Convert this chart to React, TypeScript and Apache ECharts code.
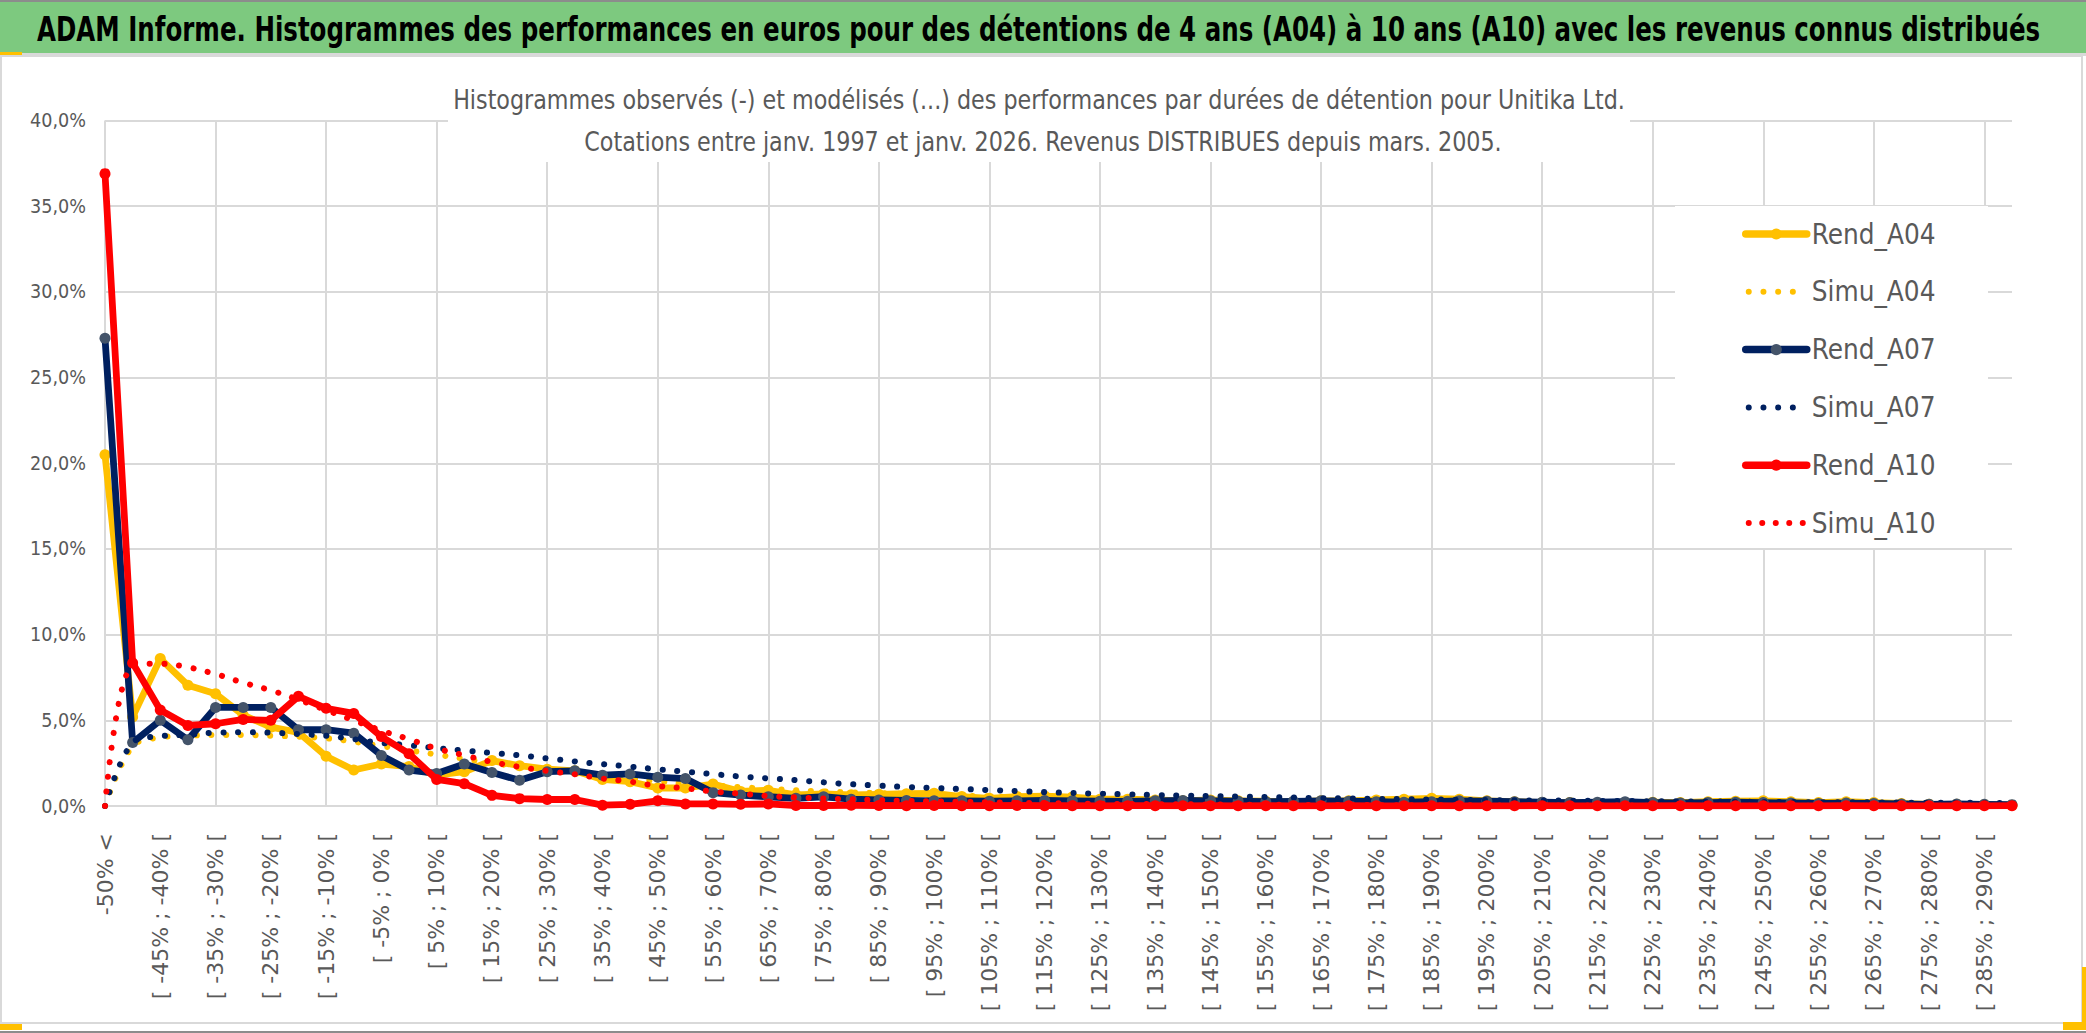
import React, { useEffect, useRef } from 'react';
import * as echarts from 'echarts';

const TITLE = 'ADAM Informe. Histogrammes des performances en euros pour des détentions de 4 ans (A04) à 10 ans (A10) avec les revenus connus distribués';
const SUB1 = 'Histogrammes observés (-) et modélisés (...) des performances par durées de détention pour Unitika Ltd.';
const SUB2 = 'Cotations entre janv. 1997 et janv. 2026. Revenus DISTRIBUES depuis mars. 2005.';

const categories = [
  '-50% <',
  '[ -50% ; -45% [', '[ -45% ; -40% [', '[ -40% ; -35% [', '[ -35% ; -30% [', '[ -30% ; -25% [',
  '[ -25% ; -20% [', '[ -20% ; -15% [', '[ -15% ; -10% [', '[ -10% ; -5% [', '[ -5% ; 0% [',
  '[ 0% ; 5% [', '[ 5% ; 10% [', '[ 10% ; 15% [', '[ 15% ; 20% [', '[ 20% ; 25% [',
  '[ 25% ; 30% [', '[ 30% ; 35% [', '[ 35% ; 40% [', '[ 40% ; 45% [', '[ 45% ; 50% [',
  '[ 50% ; 55% [', '[ 55% ; 60% [', '[ 60% ; 65% [', '[ 65% ; 70% [', '[ 70% ; 75% [',
  '[ 75% ; 80% [', '[ 80% ; 85% [', '[ 85% ; 90% [', '[ 90% ; 95% [', '[ 95% ; 100% [',
  '[ 100% ; 105% [', '[ 105% ; 110% [', '[ 110% ; 115% [', '[ 115% ; 120% [', '[ 120% ; 125% [',
  '[ 125% ; 130% [', '[ 130% ; 135% [', '[ 135% ; 140% [', '[ 140% ; 145% [', '[ 145% ; 150% [',
  '[ 150% ; 155% [', '[ 155% ; 160% [', '[ 160% ; 165% [', '[ 165% ; 170% [', '[ 170% ; 175% [',
  '[ 175% ; 180% [', '[ 180% ; 185% [', '[ 185% ; 190% [', '[ 190% ; 195% [', '[ 195% ; 200% [',
  '[ 200% ; 205% [', '[ 205% ; 210% [', '[ 210% ; 215% [', '[ 215% ; 220% [', '[ 220% ; 225% [',
  '[ 225% ; 230% [', '[ 230% ; 235% [', '[ 235% ; 240% [', '[ 240% ; 245% [', '[ 245% ; 250% [',
  '[ 250% ; 255% [', '[ 255% ; 260% [', '[ 260% ; 265% [', '[ 265% ; 270% [', '[ 270% ; 275% [',
  '[ 275% ; 280% [', '[ 280% ; 285% [', '[ 285% ; 290% [', '[ 290% ; 295% [',
];

const rendA04 = [
  20.5, 5.2, 8.6, 7.05, 6.55, 5.3, 4.6, 4.3, 2.9, 2.1,
  2.45, 2.3, 1.8, 2.0, 2.65, 2.35, 2.15, 2.05, 1.55, 1.42,
  1.05, 1.05, 1.28, 0.85, 0.92, 0.65, 0.7, 0.65, 0.68, 0.72,
  0.74, 0.55, 0.45, 0.55, 0.58, 0.52, 0.4, 0.4, 0.35, 0.3,
  0.35, 0.3, 0.28, 0.25, 0.3, 0.3, 0.35, 0.4, 0.45, 0.4,
  0.3, 0.25, 0.2, 0.2, 0.18, 0.2, 0.22, 0.2, 0.25, 0.28,
  0.3, 0.25, 0.2, 0.25, 0.2, 0.15, 0.1, 0.1, 0.08, 0.05,
];

const simuA04 = [
  0, 3.5, 4.0, 4.1, 4.15, 4.15, 4.1, 4.05, 3.95, 3.75,
  3.5, 3.25, 3.0, 2.75, 2.5, 2.3, 2.1, 1.9, 1.75, 1.6,
  1.45, 1.3, 1.2, 1.1, 1.0, 0.92, 0.85, 0.8, 0.75, 0.7,
  0.65, 0.6, 0.56, 0.52, 0.48, 0.45, 0.42, 0.39, 0.36, 0.34,
  0.32, 0.3, 0.28, 0.26, 0.25, 0.24, 0.23, 0.22, 0.21, 0.2,
  0.19, 0.18, 0.17, 0.16, 0.15, 0.15, 0.14, 0.13, 0.13, 0.12,
  0.12, 0.11, 0.11, 0.1, 0.1, 0.09, 0.09, 0.09, 0.08, 0.08,
];

const rendA07 = [
  27.3, 3.7, 5.0, 3.87, 5.75, 5.75, 5.75, 4.45, 4.45, 4.25,
  2.95, 2.1, 1.9, 2.45, 1.95, 1.5, 2.0, 2.05, 1.8, 1.87,
  1.68, 1.6, 0.78, 0.64, 0.54, 0.45, 0.54, 0.4, 0.35, 0.32,
  0.3, 0.3, 0.28, 0.3, 0.32, 0.3, 0.28, 0.27, 0.3, 0.32,
  0.3, 0.28, 0.25, 0.27, 0.3, 0.28, 0.25, 0.22, 0.25, 0.3,
  0.28, 0.25, 0.22, 0.2, 0.22, 0.25, 0.2, 0.18, 0.2, 0.22,
  0.2, 0.18, 0.15, 0.17, 0.15, 0.12, 0.1, 0.12, 0.1, 0.08,
];

const simuA07 = [
  0, 3.7, 4.07, 4.16, 4.28, 4.3, 4.28, 4.2, 4.1, 3.9,
  3.68, 3.55, 3.38, 3.24, 3.1, 2.96, 2.78, 2.6, 2.44, 2.3,
  2.14, 2.0, 1.86, 1.72, 1.61, 1.51, 1.38, 1.27, 1.19, 1.11,
  1.05, 0.99, 0.93, 0.87, 0.81, 0.76, 0.72, 0.68, 0.64, 0.61,
  0.58, 0.55, 0.52, 0.49, 0.46, 0.44, 0.42, 0.4, 0.38, 0.36,
  0.35, 0.33, 0.32, 0.31, 0.3, 0.29, 0.28, 0.27, 0.26, 0.25,
  0.24, 0.23, 0.22, 0.22, 0.21, 0.2, 0.19, 0.19, 0.18, 0.17,
];

const rendA10 = [
  36.9, 8.35, 5.6, 4.7, 4.8, 5.05, 5.0, 6.4, 5.7, 5.4,
  4.05, 3.05, 1.55, 1.3, 0.62, 0.43, 0.38, 0.38, 0.05, 0.1,
  0.3, 0.12, 0.12, 0.1, 0.12, 0.03, 0.03, 0.04, 0.03, 0.02,
  0.03, 0.02, 0.02, 0.03, 0.02, 0.02, 0.01, 0.02, 0.02, 0.01,
  0.02, 0.01, 0.02, 0.01, 0.01, 0.02, 0.01, 0.01, 0.02, 0.01,
  0.01, 0.01, 0.02, 0.01, 0.01, 0.01, 0.01, 0.02, 0.01, 0.01,
  0.01, 0.01, 0.01, 0.02, 0.01, 0.01, 0.01, 0.01, 0.01, 0.02,
];

const simuA10 = [
  0, 8.2, 8.3, 8.1, 7.7, 7.2, 6.75, 6.2, 5.6, 5.0,
  4.4, 3.9, 3.35, 2.96, 2.57, 2.28, 2.04, 1.85, 1.6, 1.42,
  1.17, 1.03, 0.84, 0.72, 0.58, 0.5, 0.44, 0.39, 0.34, 0.3,
  0.27, 0.24, 0.21, 0.19, 0.17, 0.15, 0.13, 0.12, 0.11, 0.1,
  0.09, 0.08, 0.07, 0.07, 0.06, 0.06, 0.05, 0.05, 0.04, 0.04,
  0.04, 0.03, 0.03, 0.03, 0.03, 0.03, 0.02, 0.02, 0.02, 0.02,
  0.02, 0.02, 0.02, 0.02, 0.02, 0.02, 0.02, 0.02, 0.02, 0.02,
];

const Y_MAX = 40;
const Y_STEP = 5;

const YELLOW = '#FFC000';
const NAVY = '#002060';
const NAVY_MARK = '#44546A';
const RED = '#FF0000';

const CAL = "'Liberation Sans Narrow', 'Noto Sans Condensed', 'DejaVu Sans Condensed', Lato, sans-serif";
const XF = "'DejaVu Sans', Verdana, sans-serif";

function measure(text: string, weight: string, size: number, family: string) {
  const c = document.createElement('canvas');
  const ctx = c.getContext('2d');
  if (!ctx) return 0;
  ctx.font = `${weight} ${size}px ${family}`;
  return ctx.measureText(text).width;
}

function fit(text: string, weight: string, family: string, target: number, fallback: number) {
  const w = measure(text, weight, 100, family);
  return w > 0 ? (100 * target) / w : fallback;
}

function squeeze(text: string, weight: string, size: number, family: string, target: number) {
  const w = measure(text, weight, size, family);
  return w > 0 ? Math.min(1.15, target / w) : 1;
}

function dotsIcon(n: number, gap: number) {
  const r = 3;
  let d = '';
  for (let i = 0; i < n; i++) {
    const cx = r + i * gap;
    d += `M${cx - r},${r}a${r},${r} 0 1,0 ${2 * r},0a${r},${r} 0 1,0 ${-2 * r},0`;
  }
  return `path://${d}M61,${r}`;
}

export default function App() {
  const ref = useRef<HTMLDivElement>(null);

  useEffect(() => {
    if (!ref.current) return;
    const chart = echarts.init(ref.current, null, { renderer: 'svg' });

    const TITLE_FS = 33;
    const titleSx = squeeze(TITLE, 'bold', TITLE_FS, CAL, 2004);
    const SUB_FS = 27;
    const subSx = squeeze(SUB1, 'normal', SUB_FS, CAL, 1173);
    const legFs = fit('Rend_A04', 'normal', CAL, 124, 26);
    const yFs = Math.min(22, fit('40,0%', 'normal', CAL, 56, 20));

    const rend = (name: string, data: number[], line: string, mark: string, z: number) => ({
      type: 'line',
      name,
      data,
      z,
      symbol: 'circle',
      symbolSize: 11,
      showSymbol: true,
      lineStyle: { color: line, width: 6.8, cap: 'round', join: 'round' },
      itemStyle: { color: mark, borderWidth: 0 },
      emphasis: { disabled: true },
    });
    const simu = (name: string, data: number[], color: string, z: number) => ({
      type: 'line',
      name,
      data,
      z,
      symbol: 'none',
      showSymbol: false,
      smooth: 0.35,
      lineStyle: { color, width: 6, type: [0.1, 14.6], cap: 'round' },
      itemStyle: { color, borderWidth: 0 },
      emphasis: { disabled: true },
    });

    const option: any = {
      animation: false,
      backgroundColor: '#ffffff',
      grid: { left: 105, right: 74, top: 120.5, bottom: 227, containLabel: false },
      xAxis: {
        type: 'category',
        data: categories,
        boundaryGap: false,
        axisLine: { show: true, lineStyle: { color: '#d9d9d9', width: 2 } },
        axisTick: { show: false },
        splitLine: { show: true, interval: 3, lineStyle: { color: '#d9d9d9', width: 2 } },
        axisLabel: {
          interval: 1,
          rotate: 90,
          margin: 27,
          color: '#595959',
          fontSize: 22,
          fontFamily: XF,
        },
      },
      yAxis: {
        type: 'value',
        min: 0,
        max: Y_MAX,
        interval: Y_STEP,
        axisLine: { show: false },
        axisTick: { show: false },
        splitLine: { show: true, lineStyle: { color: '#d9d9d9', width: 2 } },
        axisLabel: {
          margin: 19,
          color: '#595959',
          fontSize: yFs,
          fontFamily: CAL,
          formatter: (v: number) => `${v.toFixed(1).replace('.', ',')}%`,
        },
      },
      legend: {
        orient: 'vertical',
        left: 1742,
        top: 219,
        padding: 0,
        itemWidth: 61,
        itemHeight: 14,
        itemGap: 27.8,
        z: 10,
        selectedMode: false,
        lineStyle: { width: 7.5 },
        textStyle: { color: '#595959', fontSize: legFs, fontFamily: CAL, lineHeight: 30 },
        data: [
          { name: 'Rend_A04' },
          { name: 'Simu_A04', icon: dotsIcon(4, 14.7) },
          { name: 'Rend_A07' },
          { name: 'Simu_A07', icon: dotsIcon(4, 14.7) },
          { name: 'Rend_A10' },
          { name: 'Simu_A10', icon: dotsIcon(5, 13.5) },
        ],
      },
      graphic: [
        { type: 'rect', z: 1, shape: { x: 0, y: 0, width: 2086, height: 2 }, style: { fill: '#8c8c8c' } },
        { type: 'rect', z: 1, shape: { x: 0, y: 2, width: 2086, height: 51 }, style: { fill: '#7dc97f' } },
        { type: 'rect', z: 1, shape: { x: 0, y: 53, width: 2086, height: 3 }, style: { fill: '#d9d9d9' } },
        { type: 'rect', z: 1, shape: { x: 1, y: 56, width: 2081, height: 967 }, style: { fill: 'none', stroke: '#d9d9d9', lineWidth: 2 } },
        { type: 'rect', z: 1, shape: { x: 0, y: 1031, width: 2086, height: 2 }, style: { fill: '#8c8c8c' } },
        { type: 'rect', z: 1, shape: { x: 0, y: 52, width: 22, height: 3 }, style: { fill: YELLOW } },
        { type: 'rect', z: 1, shape: { x: 0, y: 1024, width: 22, height: 6 }, style: { fill: YELLOW } },
        { type: 'rect', z: 1, shape: { x: 2063, y: 1022, width: 21, height: 8 }, style: { fill: YELLOW } },
        { type: 'rect', z: 1, shape: { x: 2082, y: 967, width: 4, height: 63 }, style: { fill: YELLOW } },
        { type: 'rect', z: 1, shape: { x: 448, y: 64, width: 1182, height: 98 }, style: { fill: '#ffffff' } },
        { type: 'rect', z: 1, shape: { x: 1675, y: 206, width: 313, height: 342 }, style: { fill: '#ffffff' } },
        {
          type: 'text', z: 10, x: 37, y: 30, scaleX: titleSx,
          style: { text: TITLE, fontSize: TITLE_FS, fontWeight: 'bold', fontFamily: CAL, fill: '#000000', align: 'left', verticalAlign: 'middle' },
        },
        {
          type: 'text', z: 10, x: 1039, y: 100, scaleX: subSx,
          style: { text: SUB1, fontSize: SUB_FS, fontFamily: CAL, fill: '#595959', align: 'center', verticalAlign: 'middle' },
        },
        {
          type: 'text', z: 10, x: 1043, y: 142, scaleX: subSx,
          style: { text: SUB2, fontSize: SUB_FS, fontFamily: CAL, fill: '#595959', align: 'center', verticalAlign: 'middle' },
        },
      ],
      series: [
        rend('Rend_A04', rendA04, YELLOW, YELLOW, 2),
        simu('Simu_A04', simuA04, YELLOW, 3),
        rend('Rend_A07', rendA07, NAVY, NAVY_MARK, 4),
        simu('Simu_A07', simuA07, NAVY, 5),
        rend('Rend_A10', rendA10, RED, RED, 6),
        simu('Simu_A10', simuA10, RED, 7),
      ],
    };

    chart.setOption(option);
    return () => chart.dispose();
  }, []);

  return (
    <div
      ref={ref}
      style={{ position: 'absolute', left: 0, top: 0, width: 2086, height: 1033, background: '#ffffff' }}
    />
  );
}
